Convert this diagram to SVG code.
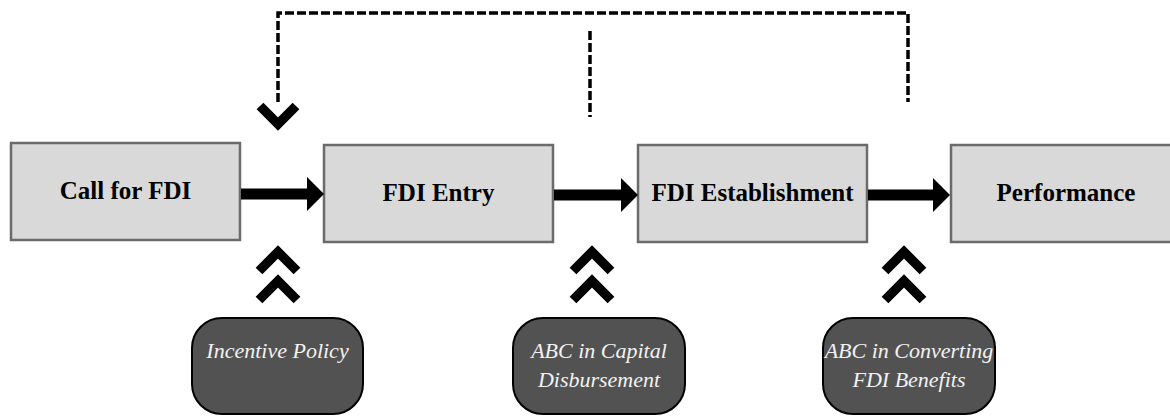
<svg xmlns="http://www.w3.org/2000/svg" width="1170" height="416" viewBox="0 0 1170 416">
<style>
.box{fill:#d9d9d9;stroke:#6b6b6b;stroke-width:2.5}
.btxt{font-weight:bold;font-size:25px;fill:#000;text-anchor:middle}
.rbox{fill:#525252;stroke:#000;stroke-width:2}
.itxt{font-style:italic;font-size:22px;fill:#f2f2f2;text-anchor:middle}
.dash{fill:none;stroke:#000;stroke-width:3.5;stroke-dasharray:9 3}
.chev{fill:none;stroke:#000;stroke-width:9.5;stroke-linejoin:miter;stroke-linecap:butt}
.shaft{stroke:#000;stroke-width:11}
</style>
<defs>
<marker id="ah" markerUnits="userSpaceOnUse" markerWidth="18" markerHeight="34" refX="0" refY="17" orient="auto">
<path d="M0,0 L17,17 L0,34 Z" fill="#000"/>
</marker>
</defs>
<g font-family="Liberation Serif, serif">
<g id="n1"><rect class="box" x="11" y="143" width="229" height="97"/><text class="btxt" x="125.5" y="199">Call for FDI</text></g>
<g id="n2"><rect class="box" x="324" y="145" width="229" height="97"/><text class="btxt" x="438.5" y="201">FDI Entry</text></g>
<g id="n3"><rect class="box" x="638" y="145" width="229" height="97"/><text class="btxt" x="752.5" y="201">FDI Establishment</text></g>
<g id="n4"><rect class="box" x="951" y="145" width="229" height="97"/><text class="btxt" x="1066" y="201">Performance</text></g>
<g id="f1"><rect class="rbox" x="192" y="318" width="171" height="96" rx="30"/><text class="itxt" x="277.5" y="358">Incentive Policy</text></g>
<g id="f2"><rect class="rbox" x="513" y="318" width="172" height="96" rx="30"/><text class="itxt" x="599" y="358">ABC in Capital</text><text class="itxt" x="599" y="387">Disbursement</text></g>
<g id="f3"><rect class="rbox" x="823" y="318" width="172" height="96" rx="30"/><text class="itxt" x="909" y="358">ABC in Converting</text><text class="itxt" x="909" y="387">FDI Benefits</text></g>
</g>
<g id="connectors">
<line class="shaft" x1="241" y1="194" x2="307" y2="194" marker-end="url(#ah)"/>
<line class="shaft" x1="554" y1="195" x2="621" y2="195" marker-end="url(#ah)"/>
<line class="shaft" x1="868" y1="195" x2="933" y2="195" marker-end="url(#ah)"/>
<path class="dash" d="M278,102 V13 H908 V102"/>
<path class="dash" d="M590,31 V117"/>
<polyline class="chev" points="260,106 278,124 296,106"/>
<polyline class="chev" points="259,271 278,252 297,271"/>
<polyline class="chev" points="259,300 278,281 297,300"/>
<polyline class="chev" points="573,271 592,252 611,271"/>
<polyline class="chev" points="573,300 592,281 611,300"/>
<polyline class="chev" points="885,271 904,252 923,271"/>
<polyline class="chev" points="885,300 904,281 923,300"/>
</g>
</svg>
